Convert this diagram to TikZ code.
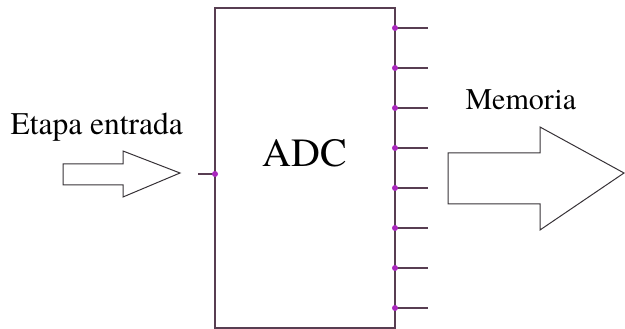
\documentclass[tikz,border=0pt]{standalone}
\usepackage{fontspec}
\newfontfamily\labelfont{texgyretermes-regular.otf}
\usetikzlibrary{arrows.meta, positioning}
\definecolor{myboxline}{RGB}{88, 62, 82}
\definecolor{mypin}{RGB}{170, 40, 190}
\definecolor{myarrowline}{RGB}{55, 50, 55}

\begin{document}
\begin{tikzpicture}[x=1pt, y=-1pt]
\useasboundingbox (0,0) rectangle (625,329);
% ADC block
\node[draw=myboxline, line width=1.3pt, minimum width=180pt, minimum height=320pt, inner sep=0pt]
    (adc) at (305,168) {};
\node[font=\labelfont\fontsize{40}{44}\selectfont, anchor=base] (adclabel) at (305,167) {ADC};

% Output pins
\foreach \i in {0,...,7} {
    \coordinate (p\i) at (395, 28+40*\i);
    \coordinate (q\i) at (428, 28+40*\i);
    \draw[myboxline, line width=1.3pt] (p\i) -- (q\i);
    \fill[mypin] (p\i) circle (3pt);
}

% Input pin
\coordinate (in) at (215,174);
\coordinate (inend) at (198,174);
\draw[myboxline, line width=1.3pt] (inend) -- (in);
\fill[mypin] (in) circle (3pt);

% Arrow in
\node[font=\labelfont\fontsize{31.5}{35}\selectfont, anchor=base west] (etapa) at (7,135) {Etapa entrada};
\draw[myarrowline, line width=1pt, line join=miter]
    (63,164) -- (123,164) -- (123,151) -- (180,173) -- (123,197) -- (123,185) -- (63,185) -- cycle;

% Arrow out
\node[font=\labelfont\fontsize{30}{34}\selectfont, anchor=base west] (memoria) at (462,110) {Memoria};
\draw[myarrowline, line width=1pt, line join=miter]
    (448,153) -- (540,153) -- (540,127) -- (624,173) -- (540,230) -- (540,204) -- (448,204) -- cycle;
\end{tikzpicture}
\end{document}
